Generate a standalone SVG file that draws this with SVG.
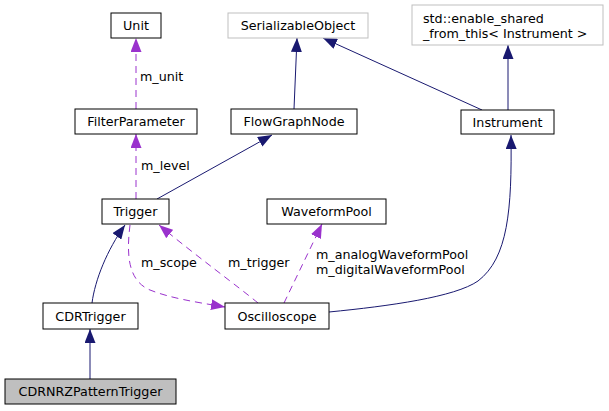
<svg xmlns="http://www.w3.org/2000/svg" width="609" height="411" viewBox="0 0 609 411">
<style>
  text { font-family: "DejaVu Sans", "Liberation Sans", sans-serif; font-size: 12.7px; fill: #000; }
  .c { text-anchor: middle; }
  .box { fill: #fff; stroke: #000; stroke-width: 1; }
  .ext { fill: #fff; stroke: #bfbfbf; stroke-width: 1; }
  .cur { fill: #bfbfbf; stroke: #000; stroke-width: 1; }
  .inh { fill: none; stroke: #191970; stroke-width: 1; }
  .use { fill: none; stroke: #9a32cd; stroke-width: 1; stroke-dasharray: 7,5; }
</style>
<defs>
  <marker id="an" markerWidth="15" markerHeight="11" refX="14" refY="5.5" orient="auto" markerUnits="userSpaceOnUse">
    <path d="M0,0 L14,5.5 L0,11 z" fill="#191970"/>
  </marker>
  <marker id="ap" markerWidth="15" markerHeight="11" refX="14" refY="5.5" orient="auto" markerUnits="userSpaceOnUse">
    <path d="M0,0 L14,5.5 L0,11 z" fill="#9a32cd"/>
  </marker>
</defs>
<rect width="609" height="411" fill="#fff"/>
<g id="connectors">
  <path class="use" d="M136,109 L136,38" marker-end="url(#ap)"/>
  <path class="use" d="M136,199 L136,134" marker-end="url(#ap)"/>
  <path class="inh" d="M294,109 L297,38" marker-end="url(#an)"/>
  <path class="inh" d="M482,110 L323,38" marker-end="url(#an)"/>
  <path class="inh" d="M508,110 L508,45" marker-end="url(#an)"/>
  <path class="inh" d="M157,199 L272,135" marker-end="url(#an)"/>
  <path class="inh" d="M92,303 C95,280 107,250 125,225" marker-end="url(#an)"/>
  <path class="inh" d="M90,379 L90,329" marker-end="url(#an)"/>
  <path class="inh" d="M329,312 C390,306 455,297 478,281 C508,258 512,210 511,135" marker-end="url(#an)"/>
  <path class="use" d="M130,225 C127,250 126,280 150,290 C170,298 195,302 225,307" marker-end="url(#ap)"/>
  <path class="use" d="M258,303 C240,288 195,255 159,225" marker-end="url(#ap)"/>
  <path class="use" d="M284,303 L322,224" marker-end="url(#ap)"/>
  <text x="140" y="81">m_unit</text>
  <text x="141" y="170">m_level</text>
  <text x="141" y="267">m_scope</text>
  <text x="228" y="267">m_trigger</text>
  <text x="316" y="259">m_analogWaveformPool</text>
  <text x="316" y="274">m_digitalWaveformPool</text>
</g>
<g id="Unit"><rect class="box" x="111" y="13" width="50" height="25"/><text class="c" x="136" y="30">Unit</text></g>
<g id="SerializableObject"><rect class="ext" x="228" y="13" width="140" height="25"/><text class="c" x="298" y="30">SerializableObject</text></g>
<g id="enable_shared"><rect class="ext" x="412" y="5" width="191" height="40"/><text x="423" y="23">std::enable_shared</text><text x="423" y="38">_from_this&lt; Instrument &gt;</text></g>
<g id="FilterParameter"><rect class="box" x="75" y="109" width="122" height="25"/><text class="c" x="136" y="126">FilterParameter</text></g>
<g id="FlowGraphNode"><rect class="box" x="231" y="109" width="126" height="25"/><text class="c" x="294" y="126">FlowGraphNode</text></g>
<g id="Instrument"><rect class="box" x="461" y="110" width="93" height="24"/><text class="c" x="507.5" y="126.5">Instrument</text></g>
<g id="Trigger"><rect class="box" x="102" y="199" width="67" height="25"/><text class="c" x="135.5" y="216">Trigger</text></g>
<g id="WaveformPool"><rect class="box" x="267" y="199" width="119" height="25"/><text class="c" x="326.5" y="216">WaveformPool</text></g>
<g id="CDRTrigger"><rect class="box" x="43" y="303" width="95" height="26"/><text class="c" x="90.5" y="320.5">CDRTrigger</text></g>
<g id="Oscilloscope"><rect class="box" x="225" y="303" width="104" height="26"/><text class="c" x="277" y="320.5">Oscilloscope</text></g>
<g id="CDRNRZPatternTrigger"><rect class="cur" x="5" y="379" width="171" height="25"/><text class="c" x="90.5" y="396">CDRNRZPatternTrigger</text></g>
</svg>
